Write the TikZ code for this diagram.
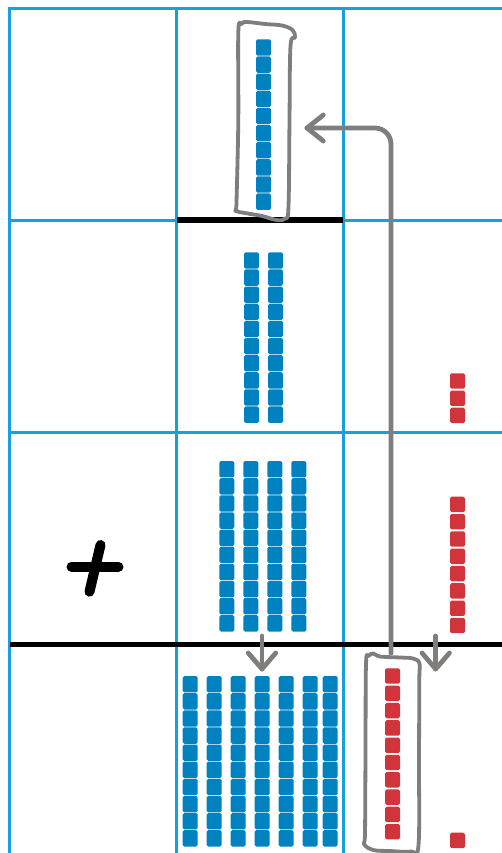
\documentclass[tikz,border=0pt]{standalone}
\usetikzlibrary{calc}
\definecolor{gridblue}{RGB}{22,160,222}
\definecolor{cubeblue}{RGB}{0,130,192}
\definecolor{cubered}{RGB}{209,52,58}
\definecolor{arrowgray}{RGB}{128,126,124}
\tikzset{
  gridline/.style={draw=gridblue, line width=3pt},
  barline/.style={draw=black, line width=5.5pt},
  bcube/.style={fill=cubeblue, rounded corners=1.6pt},
  rcube/.style={fill=cubered, rounded corners=1.6pt},
  looppath/.style={draw=arrowgray, line width=3.8pt, line join=round},
  grayarrow/.style={draw=arrowgray, line width=4.8pt, line cap=round, line join=round},
}
\newcommand{\bluestick}[2]{%
  \foreach \k in {0,...,9}{\fill[bcube] ({#1},{#2+\k*17.13}) rectangle ++(15,16.4);}}
\newcommand{\redcolumn}[4]{%
  \foreach \k in {1,...,#3}{\fill[rcube] ({#1},{#2+(\k-1)*#4}) rectangle ++(15,15.4);}}
\begin{document}
\begin{tikzpicture}[x=1pt,y=-1pt]
\useasboundingbox (0,0) rectangle (502,853);
% grid
\draw[gridline] (9.5,853) -- (9.5,8.5) -- (502,8.5);
\draw[gridline] (176.5,8.5) -- (176.5,853);
\draw[gridline] (343,8.5) -- (343,853);
\draw[gridline] (9.5,220) -- (502,220);
\draw[gridline] (9.5,432) -- (502,432);
\draw[barline] (177,220) -- (343,220);
\draw[barline] (9.5,644.5) -- (502,644.5);
% blue sticks
\bluestick{256}{39.3}
\bluestick{244}{252.3}
\bluestick{268}{252.3}
\foreach \x in {219.3,243.3,267.3,291.3}{\bluestick{\x}{461}}
\foreach \x in {182.7,206.7,230.7,254.7,278.7,302.7,322.7}{\bluestick{\x}{676}}
% red cubes
\redcolumn{450}{373.3}{3}{17.2}
\redcolumn{450}{496.7}{8}{17.3}
\redcolumn{385}{668.3}{10}{17.3}
\redcolumn{450}{832.7}{1}{17}
% plus sign
\draw[line width=10pt, line cap=round] (71.5,566.7) -- (118.5,566.7);
\draw[line width=10pt, line cap=round] (100.5,545) -- (89.5,591.7);
% hand-drawn loops
\draw[looppath] plot[smooth cycle, tension=0.6] coordinates {
  (246.7,22) (265,24) (282,25.5) (292.5,30) (295,37.5) (290.5,46)
  (289.5,120) (288.5,206) (285.5,218.5) (276.7,220) (262,216) (246.7,213.3)
  (236,210.5) (236.5,202) (238.3,120) (238.3,32) (241.5,24)};
\draw[looppath] plot[smooth cycle, tension=0.6] coordinates {
  (373.3,653.5) (380,656.5) (400,657.5) (413,658.5) (419.5,663.5) (419.3,680)
  (419,760) (418.5,845) (411,851.5) (390,851) (373.3,850) (364,844)
  (365,833.3) (365.5,750) (366,664) (368.5,656)};
% arrows
\coordinate (upstart) at (391,653);
\coordinate (lefttip) at (307,128);
\coordinate (d1start) at (262,636);
\coordinate (d1tip) at (262,669);
\coordinate (d2start) at (435.7,636);
\coordinate (d2tip) at (435.7,669);
\draw[grayarrow, rounded corners=16pt] (upstart) |- (lefttip);
\draw[grayarrow] ($(lefttip)+(16.3,-13)$) -- (lefttip) -- ($(lefttip)+(16.3,13)$);
\draw[grayarrow] (d1start) -- (d1tip);
\draw[grayarrow] ($(d1tip)+(-13.7,-16)$) -- (d1tip) -- ($(d1tip)+(13.7,-16)$);
\draw[grayarrow] (d2start) -- (d2tip);
\draw[grayarrow] ($(d2tip)+(-13.7,-16)$) -- (d2tip) -- ($(d2tip)+(13.7,-16)$);
\end{tikzpicture}
\end{document}
